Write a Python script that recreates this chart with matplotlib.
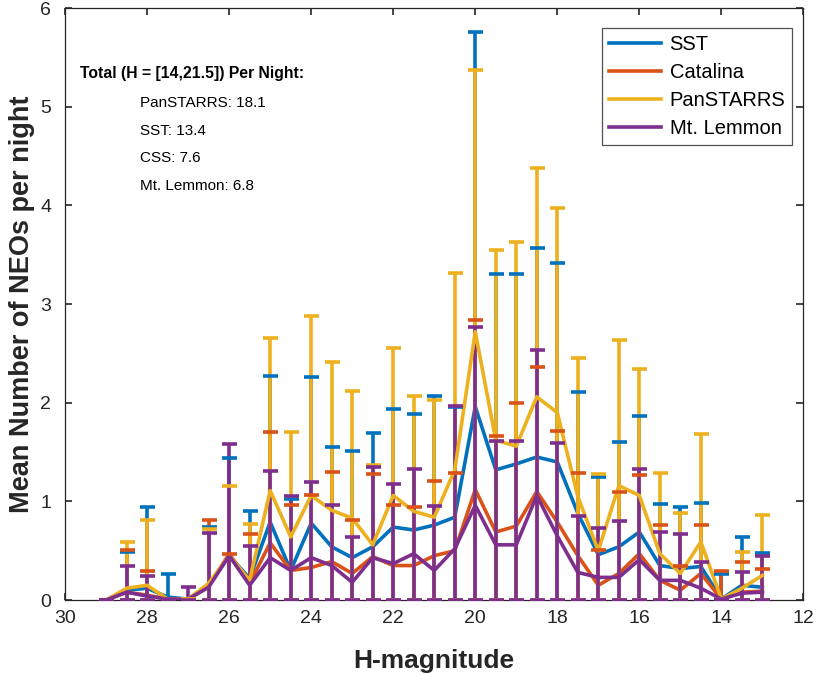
import numpy as np
import matplotlib.pyplot as plt
from matplotlib.lines import Line2D

plt.rcParams['font.family'] = ['Liberation Sans', 'DejaVu Sans']

# H-magnitude bins (29 down to 13)
h_mag = np.arange(29, 12.75, -0.5)

# mean NEOs per night
sst = [0.0, 0.10, 0.12, 0.03, 0.01, 0.15, 0.45, 0.22, 0.79, 0.30, 0.78, 0.54, 0.43,
       0.54, 0.74, 0.71, 0.76, 0.84, 1.96, 1.32, 1.38, 1.45, 1.40, 0.88, 0.46, 0.54,
       0.69, 0.35, 0.32, 0.34, 0.01, 0.15, 0.13]
catalina = [0.0, 0.08, 0.05, 0.01, 0.01, 0.14, 0.47, 0.17, 0.58, 0.30, 0.33, 0.39, 0.27,
            0.44, 0.35, 0.35, 0.45, 0.50, 1.12, 0.69, 0.75, 1.10, 0.79, 0.45, 0.15, 0.27,
            0.47, 0.20, 0.10, 0.27, 0.01, 0.08, 0.09]
panstarrs = [0.0, 0.12, 0.15, 0.01, 0.01, 0.17, 0.45, 0.20, 1.11, 0.64, 1.06, 0.91, 0.83,
             0.56, 1.06, 0.90, 0.84, 1.32, 2.72, 1.62, 1.56, 2.06, 1.90, 1.05, 0.50, 1.16,
             1.06, 0.47, 0.27, 0.59, 0.01, 0.12, 0.25]
lemmon = [0.0, 0.08, 0.04, 0.01, 0.01, 0.13, 0.45, 0.15, 0.43, 0.30, 0.43, 0.35, 0.18,
          0.43, 0.37, 0.47, 0.30, 0.52, 0.96, 0.56, 0.56, 1.06, 0.65, 0.28, 0.23, 0.23,
          0.41, 0.20, 0.20, 0.12, 0.01, 0.07, 0.08]

# top of the error bars
sst_hi = [0.0, 0.49, 0.94, 0.26, 0.01, 0.74, 1.44, 0.90, 2.27, 1.02, 2.26, 1.55, 1.51,
          1.69, 1.94, 1.89, 2.07, 1.96, 5.76, 3.31, 3.30, 3.57, 3.42, 2.11, 1.25, 1.60,
          1.87, 0.97, 0.94, 0.98, 0.26, 0.64, 0.48]
catalina_hi = [0.0, 0.51, 0.29, 0.01, 0.01, 0.81, 0.47, 0.67, 1.70, 0.96, 1.06, 1.30, 0.81,
               1.28, 0.96, 0.94, 1.21, 1.29, 2.84, 1.66, 2.00, 2.36, 1.71, 1.29, 0.51, 1.10,
               1.27, 0.76, 0.35, 0.76, 0.29, 0.39, 0.31]
panstarrs_hi = [0.0, 0.59, 0.81, 0.01, 0.01, 0.72, 1.16, 0.77, 2.66, 1.70, 2.88, 2.41, 2.12,
                1.37, 2.55, 2.07, 2.03, 3.32, 5.37, 3.55, 3.63, 4.38, 3.97, 2.45, 1.28, 2.64,
                2.34, 1.29, 0.88, 1.68, 0.01, 0.49, 0.86]
lemmon_hi = [0.0, 0.35, 0.24, 0.01, 0.13, 0.68, 1.58, 0.55, 1.31, 1.05, 1.20, 0.96, 0.64,
             1.35, 1.18, 1.33, 0.95, 1.97, 2.77, 1.61, 1.61, 2.53, 1.59, 0.85, 0.73, 0.80,
             1.33, 0.69, 0.67, 0.39, 0.01, 0.28, 0.45]

names = ['SST', 'Catalina', 'PanSTARRS', 'Mt. Lemmon']
colors = ['#0072BD', '#D95319', '#EDB120', '#7E2F8E']
means = [sst, catalina, panstarrs, lemmon]
highs = [sst_hi, catalina_hi, panstarrs_hi, lemmon_hi]

fig = plt.figure(figsize=(8.24, 6.75), dpi=100)
ax = fig.add_axes([0.079, 0.111, 0.896, 0.877])

for i in range(4):
    m = np.array(means[i])
    hi = np.array(highs[i])
    line, caps, bars = ax.errorbar(h_mag, m, yerr=[m, hi - m], color=colors[i],
                                   linewidth=2.6, elinewidth=2.6, capsize=5.4,
                                   capthick=2.6, zorder=2 + i * 0.1)
    for c in caps:
        c.set_zorder(4 + i * 0.1)

ax.set_xlim(30, 12)
ax.set_ylim(0, 6)
ax.set_xticks(np.arange(30, 11, -2))
ax.set_yticks(np.arange(0, 7, 1))
ax.tick_params(direction='in', length=5, width=1.2, top=True, right=True,
               labelsize=14, colors='#262626')
ax.tick_params(axis='x', pad=7)
ax.tick_params(axis='y', pad=10)
for s in ax.spines.values():
    s.set_color('#262626')
    s.set_linewidth(0.9)

ax.set_xlabel('H-magnitude', fontsize=19, fontweight='bold', color='#262626',
              labelpad=16)
ax.set_ylabel('Mean Number of NEOs per night', fontsize=19.5, fontweight='bold',
              color='#262626', labelpad=4)

handles = [Line2D([], [], color=c, linewidth=2.6) for c in colors]
leg = ax.legend(handles, names, loc='upper right', fontsize=14.5, handlelength=2.6,
                frameon=True, fancybox=False, edgecolor='#262626',
                bbox_to_anchor=(0.985, 0.967), borderpad=0.35, labelspacing=0.45,
                handletextpad=0.4, borderaxespad=0)
leg.get_frame().set_linewidth(0.9)


def fig_px(x, y):
    # pixel position in the 824x675 picture -> axes fraction
    return ax.transAxes.inverted().transform((x, 675 - y))


x0, y0 = fig_px(80, 73)
ax.text(x0, y0, 'Total (H = [14,21.5]) Per Night:', transform=ax.transAxes,
        fontsize=11.3, fontweight='bold', va='center', ha='left', color='black')
stats = ['PanSTARRS: 18.1', 'SST: 13.4', 'CSS: 7.6', 'Mt. Lemmon: 6.8']
for k, s in enumerate(stats):
    xs, ys = fig_px(140, 103 + k * 27.7)
    ax.text(xs, ys, s, transform=ax.transAxes, fontsize=11, va='center', ha='left',
            color='black')

fig.savefig('out.png', dpi=100)
